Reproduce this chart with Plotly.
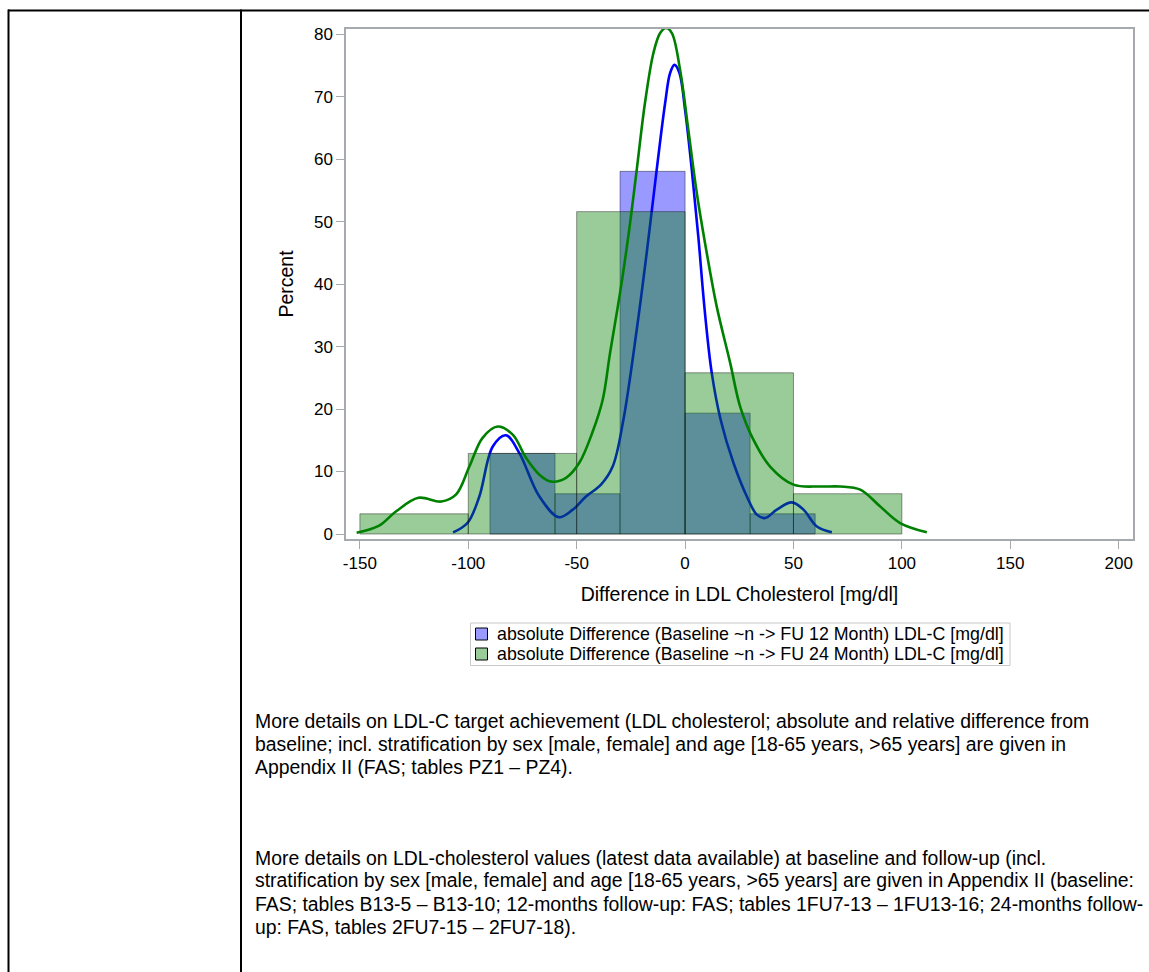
import plotly.graph_objects as go

# ---------------- data ----------------
blue_name = "absolute Difference (Baseline ~n -> FU 12 Month) LDL-C [mg/dl]"
green_name = "absolute Difference (Baseline ~n -> FU 24 Month) LDL-C [mg/dl]"

blue_bin_left = [-90, -60, -30, 0, 30]
blue_bin_width = [30, 30, 30, 30, 30]
blue_pct = [12.90, 6.45, 58.06, 19.35, 3.23]

green_bin_left = [-150, -100, -50, 0, 50]
green_bin_width = [50, 50, 50, 50, 50]
green_pct = [3.23, 12.90, 51.61, 25.81, 6.45]

blue_kde_x = [-107, -100.3, -94.9, -88.7, -82.6, -76.5, -67.2, -58.3, -51.8, -45.7,
              -38.8, -33.4, -28.6, -22.3, -17.7, -13.1, -9.2, -6.9, -4.9, -2.6,
              0, 3.1, 6.1, 9.0, 12.3, 16.4, 22.3, 28.5, 33.1, 36.9,
              42.3, 49.2, 54.6, 60.8, 67.7]
blue_kde_y = [0.25, 1.8, 6.0, 14.0, 15.8, 13.0, 6.0, 2.7, 3.9, 6.0,
              7.9, 10.8, 18.0, 32.7, 45.0, 58.3, 69.0, 73.8, 75.1, 73.8,
              67.9, 58.3, 47.6, 36.0, 25.8, 18.3, 11.4, 6.0, 3.1, 2.55,
              3.9, 5.06, 3.9, 1.2, 0.27]

green_kde_x = [-151.5, -141.1, -133.4, -123.0, -112.5, -105.7, -99.5, -93.4, -86.4, -79.5,
               -73.4, -67.2, -61.8, -54.9, -48.8, -42.6, -38.0, -34.6, -30.0, -26.2,
               -22.3, -18.5, -14.6, -11.5, -8.8, -6.1, -2.3, 1.5, 5.4, 10.0,
               14.6, 20.8, 25.4, 31.5, 39.2, 50.0, 62.3, 71.5, 80.8, 90.0,
               99.2, 111.5]
green_kde_y = [0.2, 1.33, 3.6, 5.8, 5.2, 6.3, 10.8, 15.4, 17.2, 15.9,
               12.2, 9.5, 8.4, 9.0, 11.4, 16.4, 21.5, 29.0, 38.6, 47.6,
               58.3, 69.0, 77.0, 80.2, 81.0, 80.2, 74.3, 64.7, 54.6, 45.0,
               36.4, 27.4, 20.4, 15.1, 10.8, 7.9, 7.6, 7.6, 7.1, 4.4,
               1.76, 0.27]

x_ticks = [-150, -100, -50, 0, 50, 100, 150, 200]
x_tick_labels = ["-150", "-100", "-50", "0", "50", "100", "150", "200"]
y_ticks = [0, 10, 20, 30, 40, 50, 60, 70, 80]
y_tick_labels = ["0", "10", "20", "30", "40", "50", "60", "70", "80"]
x_title = "Difference in LDL Cholesterol [mg/dl]"
y_title = "Percent"

para_lines = [
    "More details on LDL-C target achievement (LDL cholesterol; absolute and relative difference from",
    "baseline; incl. stratification by sex [male, female] and age [18-65 years, >65 years] are given in",
    "Appendix II (FAS; tables PZ1 – PZ4).",
    "More details on LDL-cholesterol values (latest data available) at baseline and follow-up (incl.",
    "stratification by sex [male, female] and age [18-65 years, >65 years] are given in Appendix II (baseline:",
    "FAS; tables B13-5 – B13-10; 12-months follow-up: FAS; tables 1FU7-13 – 1FU13-16; 24-months follow-",
    "up: FAS, tables 2FU7-15 – 2FU7-18).",
]

# ---------------- geometry (pixels) ----------------
W, H = 1149, 972
L, R, T, B = 346, 1133, 29, 539
PW, PH = R - L, B - T


def px(X):
    return (X - L) / PW


def py(Y):
    return (B - Y) / PH


FONT = "Liberation Sans, Arial, sans-serif"
BLUE_FILL = "rgba(0,0,255,0.4)"
GREEN_FILL = "rgba(0,128,0,0.4)"
BAR_LINE = "rgba(0,0,0,0.4)"
FRAME = "#A6A9AE"

fig = go.Figure()

fig.add_trace(go.Bar(x=blue_bin_left, y=blue_pct, width=blue_bin_width, offset=0,
                     name=blue_name, showlegend=False,
                     marker=dict(color=BLUE_FILL, line=dict(color=BAR_LINE, width=1)),
                     xaxis="x", yaxis="y"))
fig.add_trace(go.Scatter(x=blue_kde_x, y=blue_kde_y, mode="lines", name=blue_name + " (kernel)",
                         showlegend=False, line=dict(color="#0000FF", width=2.6, shape="spline"),
                         xaxis="x", yaxis="y"))
fig.add_trace(go.Bar(x=green_bin_left, y=green_pct, width=green_bin_width, offset=0,
                     name=green_name, showlegend=False,
                     marker=dict(color=GREEN_FILL, line=dict(color=BAR_LINE, width=1)),
                     xaxis="x2", yaxis="y2"))
fig.add_trace(go.Scatter(x=green_kde_x, y=green_kde_y, mode="lines", name=green_name + " (kernel)",
                         showlegend=False, line=dict(color="#008000", width=2.6, shape="spline"),
                         xaxis="x2", yaxis="y2"))

xr = [-156.4, 206.6]
yr = [-0.8, 80.85]

fig.update_layout(
    width=W, height=H,
    margin=dict(l=L, r=W - R, t=T, b=H - B, pad=0),
    paper_bgcolor="white", plot_bgcolor="white",
    showlegend=False,
    font=dict(family=FONT, color="#000000"),
    xaxis=dict(range=xr, tickvals=x_ticks, ticktext=x_tick_labels, ticks="outside", ticklen=8,
               tickcolor=FRAME, tickwidth=1, showline=True, mirror=True, linecolor=FRAME, linewidth=1.5,
               showgrid=False, zeroline=False, tickfont=dict(size=17, family=FONT, color="#000"),
               title=dict(text=x_title, font=dict(size=19.5, family=FONT, color="#000"))),
    yaxis=dict(range=yr, tickvals=y_ticks, ticktext=y_tick_labels, ticks="outside", ticklen=8,
               tickcolor=FRAME, tickwidth=1, showline=True, mirror=True, linecolor=FRAME, linewidth=1.5,
               showgrid=False, zeroline=False, tickfont=dict(size=17, family=FONT, color="#000"),
               title=dict(text=y_title, font=dict(size=19.5, family=FONT, color="#000"))),
    xaxis2=dict(range=xr, overlaying="x", visible=False, showgrid=False, zeroline=False),
    yaxis2=dict(range=yr, overlaying="y", visible=False, showgrid=False, zeroline=False),
)

shapes = []
# table frame lines
shapes.append(dict(type="line", xref="paper", yref="paper", x0=px(8), x1=px(1160), y0=py(10.5), y1=py(10.5),
                   line=dict(color="black", width=2)))
shapes.append(dict(type="line", xref="paper", yref="paper", x0=px(8.5), x1=px(8.5), y0=py(9.5), y1=py(990),
                   line=dict(color="black", width=2)))
shapes.append(dict(type="line", xref="paper", yref="paper", x0=px(241), x1=px(241), y0=py(9.5), y1=py(990),
                   line=dict(color="black", width=2)))
# legend box
shapes.append(dict(type="rect", xref="paper", yref="paper", x0=px(470.5), x1=px(1010), y0=py(623), y1=py(665.5),
                   line=dict(color="#C8C8C8", width=1), fillcolor="white", layer="below"))
annotations = []
for i, (name, fill) in enumerate([(blue_name, BLUE_FILL), (green_name, GREEN_FILL)]):
    cy = 634 + 20 * i
    shapes.append(dict(type="rect", xref="paper", yref="paper", x0=px(475.5), x1=px(487.5),
                       y0=py(cy - 6), y1=py(cy + 6), fillcolor=fill,
                       line=dict(color="black", width=1)))
    annotations.append(dict(xref="paper", yref="paper", x=px(495), y=py(cy), xanchor="left", yanchor="middle",
                            text=name, showarrow=False, font=dict(size=17.8, family=FONT, color="#000")))

para_y = [720.5, 743.5, 766.5, 857.5, 880.5, 903.5, 926.5]
for txt, yy in zip(para_lines, para_y):
    annotations.append(dict(xref="paper", yref="paper", x=px(253), y=py(yy), xanchor="left", yanchor="middle",
                            text=txt, showarrow=False, font=dict(size=19.4, family=FONT, color="#000")))

fig.update_layout(shapes=shapes, annotations=annotations)

fig.write_html("out.html")
